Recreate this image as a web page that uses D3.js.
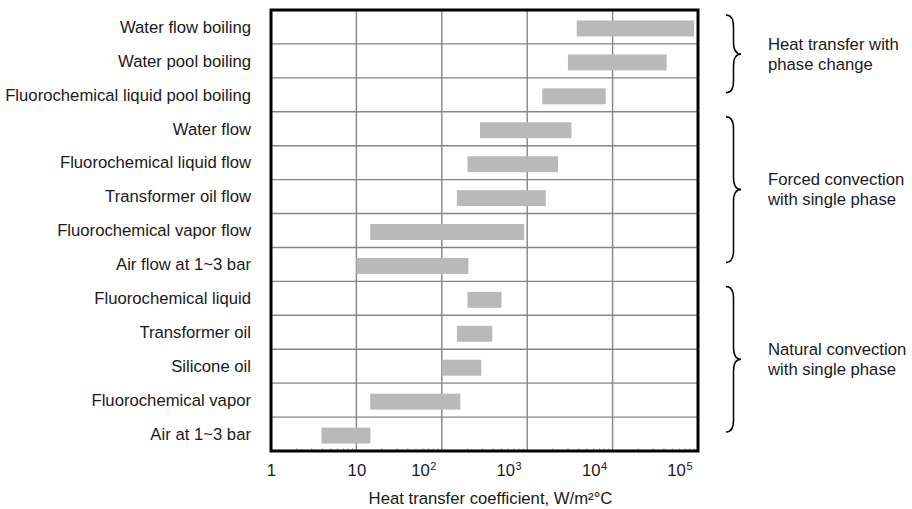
<!DOCTYPE html>
<html>
<head>
<meta charset="utf-8">
<script src="https://cdn.jsdelivr.net/npm/d3@7"></script>
<style>
  body { margin: 0; background: #fff; }
  text { font-family: "Liberation Sans", Arial, sans-serif; fill: #1a1a1a; }
</style>
</head>
<body>
<div id="chart"></div>
<script>
// categories, top to bottom
const CATEGORIES = [
  'Water flow boiling',
  'Water pool boiling',
  'Fluorochemical liquid pool boiling',
  'Water flow',
  'Fluorochemical liquid flow',
  'Transformer oil flow',
  'Fluorochemical vapor flow',
  'Air flow at 1~3 bar',
  'Fluorochemical liquid',
  'Transformer oil',
  'Silicone oil',
  'Fluorochemical vapor',
  'Air at 1~3 bar'
];
// range of heat transfer coefficient, W/m2C
const LOW  = [3800, 3000, 1500, 280, 200, 150, 14.5, 10, 200, 150, 100, 14.5, 3.9];
const HIGH = [90000, 43000, 8300, 3300, 2300, 1650, 920, 205, 500, 390, 290, 165, 14.6];

const X_TICKS = [1, 10, 100, 1000, 10000, 100000];
const X_LABEL = 'Heat transfer coefficient, W/m\u00b2\u00b0C';

const GROUP_NAMES = [
  ['Heat transfer with', 'phase change'],
  ['Forced convection', 'with single phase'],
  ['Natural convection', 'with single phase']
];
const GROUP_FIRST = [0, 3, 8];
const GROUP_LAST = [2, 7, 12];

const WIDTH = 912, HEIGHT = 509;
const MARGIN = { top: 10, right: 214, bottom: 58, left: 271 };
const W = WIDTH - MARGIN.left - MARGIN.right;
const H = HEIGHT - MARGIN.top - MARGIN.bottom;
const FONT = 16.7;

const svg = d3.select('#chart').append('svg')
  .attr('width', WIDTH)
  .attr('height', HEIGHT);

const g = svg.append('g')
  .attr('transform', `translate(${MARGIN.left}, ${MARGIN.top})`);

const x = d3.scaleLog().domain([1, 100000]).range([0, W]);
const y = d3.scaleBand().domain(CATEGORIES).range([0, H]);
const bw = y.bandwidth();

// grid, vertical
g.append('g')
  .selectAll('line')
  .data(X_TICKS.slice(1, -1))
  .join('line')
    .attr('x1', d => x(d)).attr('x2', d => x(d))
    .attr('y1', 0).attr('y2', H)
    .attr('stroke', '#858585')
    .attr('stroke-width', 1.4);

// grid, horizontal (row borders)
g.append('g')
  .selectAll('line')
  .data(CATEGORIES.slice(1))
  .join('line')
    .attr('x1', 0).attr('x2', W)
    .attr('y1', d => y(d)).attr('y2', d => y(d))
    .attr('stroke', '#858585')
    .attr('stroke-width', 1.4);

// minor ticks along the bottom
const minor = [];
X_TICKS.slice(0, -1).forEach(t => { for (let k = 2; k < 10; k++) minor.push(t * k); });
g.append('g')
  .selectAll('line')
  .data(minor)
  .join('line')
    .attr('x1', d => x(d)).attr('x2', d => x(d))
    .attr('y1', H - 3).attr('y2', H)
    .attr('stroke', '#bdbdbd')
    .attr('stroke-width', 1);

// bars
g.append('g')
  .selectAll('rect')
  .data(CATEGORIES)
  .join('rect')
    .attr('x', (d, i) => x(LOW[i]))
    .attr('width', (d, i) => x(HIGH[i]) - x(LOW[i]))
    .attr('y', d => y(d) + bw * 0.31)
    .attr('height', bw * 0.47)
    .attr('fill', '#b9b9b9');

// frame
g.append('rect')
  .attr('x', 0).attr('y', 0)
  .attr('width', W).attr('height', H)
  .attr('fill', 'none')
  .attr('stroke', '#000')
  .attr('stroke-width', 3);

// category labels
g.append('g')
  .selectAll('text')
  .data(CATEGORIES)
  .join('text')
    .attr('x', -20)
    .attr('y', d => y(d) + bw / 2)
    .attr('dy', '0.35em')
    .attr('text-anchor', 'end')
    .attr('font-size', FONT)
    .text(d => d);

// x axis labels (powers of ten)
const xAxis = d3.axisBottom(x)
  .tickValues(X_TICKS)
  .tickSize(0)
  .tickFormat(() => '');
const xAxisGroup = g.append('g')
  .attr('transform', `translate(0, ${H})`)
  .call(xAxis);
xAxisGroup.select('.domain').remove();
xAxisGroup.selectAll('.tick text').remove();
xAxisGroup.selectAll('.tick').each(function(d) {
  const tick = d3.select(this);
  const exp = Math.round(Math.log10(d));
  const label = tick.append('text')
    .attr('y', 25)
    .attr('font-size', FONT);
  if (exp < 2) {
    label.attr('text-anchor', 'middle').text(exp === 0 ? '1' : '10');
  } else {
    const base = label.append('tspan').text('10');
    label.append('tspan')
      .attr('dx', 0.5)
      .attr('dy', -6.5)
      .attr('font-size', 11)
      .text(exp);
    // "10" ends on the grid line, the exponent hangs to the right
    label.attr('x', -base.node().getComputedTextLength());
  }
});

g.append('text')
  .attr('x', W / 2 + 6)
  .attr('y', H + 53)
  .attr('text-anchor', 'middle')
  .attr('font-size', FONT)
  .text(X_LABEL);

// braces and group names
function bracePath(bx, y0, y1, w) {
  const ym = (y0 + y1) / 2, q = w / 2;
  return `M${bx},${y0} Q${bx + q},${y0} ${bx + q},${y0 + q * 1.6}` +
    ` L${bx + q},${ym - q * 1.6} Q${bx + q},${ym} ${bx + w},${ym}` +
    ` Q${bx + q},${ym} ${bx + q},${ym + q * 1.6}` +
    ` L${bx + q},${y1 - q * 1.6} Q${bx + q},${y1} ${bx},${y1}`;
}

const groups = g.append('g')
  .selectAll('g')
  .data(GROUP_NAMES)
  .join('g');

const braceTop = i => y(CATEGORIES[GROUP_FIRST[i]]) + 5;
const braceBottom = i => y(CATEGORIES[GROUP_LAST[i]]) + bw - 19;

groups.append('path')
  .attr('d', (d, i) => bracePath(W + 28, braceTop(i), braceBottom(i), 15))
  .attr('fill', 'none')
  .attr('stroke', '#000')
  .attr('stroke-width', 1.5);

groups.each(function(lines, i) {
  const mid = (braceTop(i) + braceBottom(i)) / 2;
  d3.select(this).selectAll('text')
    .data(lines)
    .join('text')
      .attr('x', W + 70)
      .attr('y', (t, j) => mid - 10 + j * 20)
      .attr('dy', '0.35em')
      .attr('font-size', FONT)
      .text(t => t);
});
</script>
</body>
</html>
